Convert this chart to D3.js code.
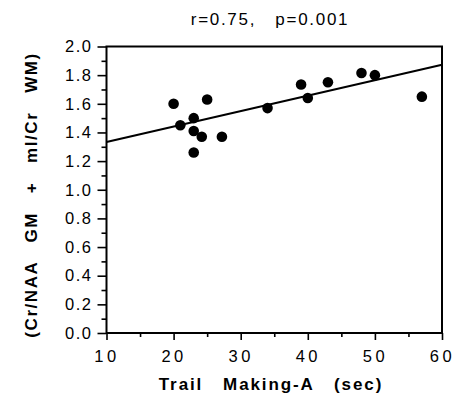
<!DOCTYPE html>
<html>
<head>
<meta charset="utf-8">
<script src="https://cdn.jsdelivr.net/npm/d3@7"></script>
<style>
  body { margin: 0; background: #fff; }
  text { font-family: "Liberation Sans", Arial, sans-serif; fill: #000; }
</style>
</head>
<body>
<div id="chart"></div>
<script>
// values
const trailX = [20, 21, 23, 23, 24.2, 23, 25, 27.2, 34, 39, 40, 43, 48, 50, 57];
const ratioY = [1.60, 1.45, 1.50, 1.41, 1.37, 1.26, 1.63, 1.37, 1.57, 1.735, 1.64, 1.75, 1.815, 1.80, 1.65];
const fitX = [10, 60];
const fitY = [1.334, 1.872];
const xTicks = [10, 20, 30, 40, 50, 60];
const yTicks = [0, 0.2, 0.4, 0.6, 0.8, 1.0, 1.2, 1.4, 1.6, 1.8, 2.0];

const width = 457, height = 396;
const margin = { top: 46.5, right: 15, bottom: 63, left: 106.5 };
const font = '"Liberation Sans", Arial, sans-serif';

const svg = d3.select('#chart')
  .append('svg')
  .attr('width', width)
  .attr('height', height);

const x = d3.scaleLinear().domain([10, 60]).range([margin.left, width - margin.right]);
const y = d3.scaleLinear().domain([0, 2]).range([height - margin.bottom, margin.top]);

// frame
svg.append('rect')
  .attr('x', x(10))
  .attr('y', y(2))
  .attr('width', x(60) - x(10))
  .attr('height', y(0) - y(2))
  .attr('fill', 'none')
  .attr('stroke', 'black')
  .attr('stroke-width', 2);

// y axis, major + minor ticks
const yMajor = d3.axisLeft(y).tickValues(yTicks).tickFormat(d3.format('.1f')).tickSize(9).tickPadding(5);
const yMinor = d3.axisLeft(y).tickValues(d3.range(0.1, 2, 0.2)).tickFormat('').tickSize(5);
const gy = svg.append('g').attr('transform', `translate(${x(10)},0)`).call(yMajor);
svg.append('g').attr('transform', `translate(${x(10)},0)`).call(yMinor)
  .call(g => g.select('.domain').remove());
gy.select('.domain').remove();
gy.selectAll('text').attr('font-size', 16.5).attr('letter-spacing', 1.5).attr('font-family', font);

// x axis
const xMajor = d3.axisBottom(x).tickValues(xTicks).tickSize(7).tickPadding(10);
const xMinor = d3.axisBottom(x).tickValues([15, 25, 35, 45, 55]).tickFormat('').tickSize(4);
const gx = svg.append('g').attr('transform', `translate(0,${y(0)})`).call(xMajor);
svg.append('g').attr('transform', `translate(0,${y(0)})`).call(xMinor)
  .call(g => g.select('.domain').remove());
gx.select('.domain').remove();
gx.selectAll('text').attr('font-size', 16.5).attr('letter-spacing', 3.5).attr('font-family', font);

svg.selectAll('.tick line').attr('stroke', 'black').attr('stroke-width', 1.6);

// regression line
svg.append('line')
  .attr('x1', x(fitX[0])).attr('y1', y(fitY[0]))
  .attr('x2', x(fitX[1])).attr('y2', y(fitY[1]))
  .attr('stroke', 'black')
  .attr('stroke-width', 2);

// points
svg.selectAll('circle.pt')
  .data(trailX.map((v, i) => [v, ratioY[i]]))
  .join('circle')
  .attr('class', 'pt')
  .attr('cx', d => x(d[0]))
  .attr('cy', d => y(d[1]))
  .attr('r', 5.3)
  .attr('fill', 'black');

// title
svg.append('text')
  .attr('x', 270)
  .attr('y', 25)
  .attr('text-anchor', 'middle')
  .attr('font-size', 17)
  .attr('letter-spacing', 1.7)
  .style('white-space', 'pre')
  .text('r=0.75,   p=0.001');

// axis labels
svg.append('text')
  .attr('x', 271)
  .attr('y', 390)
  .attr('text-anchor', 'middle')
  .attr('font-size', 17)
  .attr('font-weight', 'bold')
  .attr('letter-spacing', 1.9)
  .style('white-space', 'pre')
  .text('Trail   Making-A   (sec)');

svg.append('text')
  .attr('transform', 'translate(36.5,195) rotate(-90)')
  .attr('text-anchor', 'middle')
  .attr('font-size', 17)
  .attr('font-weight', 'bold')
  .attr('letter-spacing', 1.55)
  .style('white-space', 'pre')
  .text('(Cr/NAA   GM   +   mI/Cr   WM)');
</script>
</body>
</html>
